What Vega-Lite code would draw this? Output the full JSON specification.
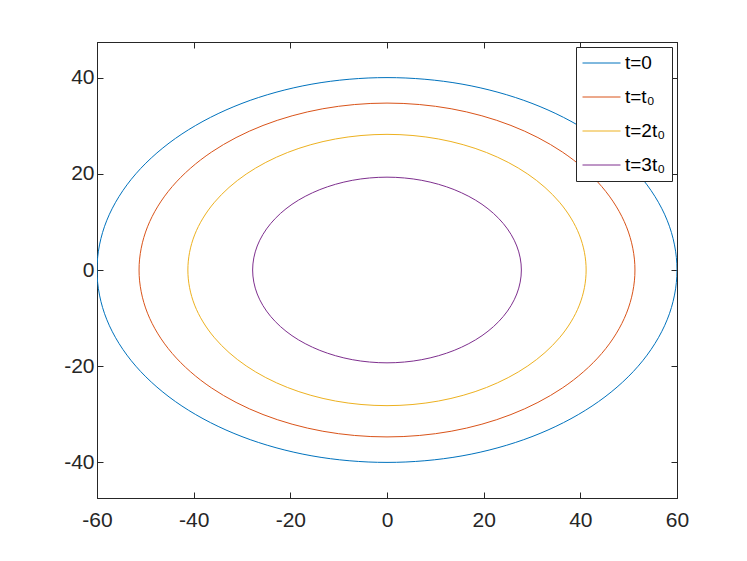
{
  "$schema": "https://vega.github.io/schema/vega-lite/v6.json",
  "width": 580,
  "height": 456,
  "autosize": {"type": "none"},
  "padding": {"left": 97, "top": 42, "right": 70, "bottom": 63},
  "background": "white",
  "config": {
    "view": {"stroke": "#262626", "strokeWidth": 1},
    "axis": {
      "grid": false,
      "domainColor": "#262626",
      "tickColor": "#262626",
      "labelColor": "#262626",
      "labelFont": "Liberation Sans",
      "labelFontSize": 21,
      "tickSize": -6,
      "title": null,
      "labelExpr": "replace(datum.label, '−', '-')"
    },
    "legend": {
      "strokeColor": "#262626",
      "fillColor": "white",
      "padding": 6,
      "labelFont": "Liberation Sans",
      "labelFontSize": 19,
      "labelColor": "#000000",
      "symbolType": "M-1,0H3",
      "symbolStrokeWidth": 1,
      "symbolSize": 361,
      "rowPadding": 14,
      "labelOffset": 23
    }
  },
  "data": {
    "values": [
      {"s":"t=0","i":0,"x":60,"y":0},{"s":"t=0","i":1,"x":57.96,"y":10.35},{"s":"t=0","i":2,"x":51.96,"y":20},{"s":"t=0","i":3,"x":42.43,"y":28.28},{"s":"t=0","i":4,"x":30,"y":34.64},{"s":"t=0","i":5,"x":15.53,"y":38.64},{"s":"t=0","i":6,"x":0,"y":40},{"s":"t=0","i":7,"x":-15.53,"y":38.64},{"s":"t=0","i":8,"x":-30,"y":34.64},{"s":"t=0","i":9,"x":-42.43,"y":28.28},{"s":"t=0","i":10,"x":-51.96,"y":20},{"s":"t=0","i":11,"x":-57.96,"y":10.35},{"s":"t=0","i":12,"x":-60,"y":0},{"s":"t=0","i":13,"x":-57.96,"y":-10.35},{"s":"t=0","i":14,"x":-51.96,"y":-20},{"s":"t=0","i":15,"x":-42.43,"y":-28.28},{"s":"t=0","i":16,"x":-30,"y":-34.64},{"s":"t=0","i":17,"x":-15.53,"y":-38.64},{"s":"t=0","i":18,"x":0,"y":-40},{"s":"t=0","i":19,"x":15.53,"y":-38.64},{"s":"t=0","i":20,"x":30,"y":-34.64},{"s":"t=0","i":21,"x":42.43,"y":-28.28},{"s":"t=0","i":22,"x":51.96,"y":-20},{"s":"t=0","i":23,"x":57.96,"y":-10.35},
      {"s":"t=t₀","i":0,"x":51.3,"y":0},{"s":"t=t₀","i":1,"x":49.55,"y":8.98},{"s":"t=t₀","i":2,"x":44.43,"y":17.35},{"s":"t=t₀","i":3,"x":36.27,"y":24.54},{"s":"t=t₀","i":4,"x":25.65,"y":30.05},{"s":"t=t₀","i":5,"x":13.28,"y":33.52},{"s":"t=t₀","i":6,"x":0,"y":34.7},{"s":"t=t₀","i":7,"x":-13.28,"y":33.52},{"s":"t=t₀","i":8,"x":-25.65,"y":30.05},{"s":"t=t₀","i":9,"x":-36.27,"y":24.54},{"s":"t=t₀","i":10,"x":-44.43,"y":17.35},{"s":"t=t₀","i":11,"x":-49.55,"y":8.98},{"s":"t=t₀","i":12,"x":-51.3,"y":0},{"s":"t=t₀","i":13,"x":-49.55,"y":-8.98},{"s":"t=t₀","i":14,"x":-44.43,"y":-17.35},{"s":"t=t₀","i":15,"x":-36.27,"y":-24.54},{"s":"t=t₀","i":16,"x":-25.65,"y":-30.05},{"s":"t=t₀","i":17,"x":-13.28,"y":-33.52},{"s":"t=t₀","i":18,"x":0,"y":-34.7},{"s":"t=t₀","i":19,"x":13.28,"y":-33.52},{"s":"t=t₀","i":20,"x":25.65,"y":-30.05},{"s":"t=t₀","i":21,"x":36.27,"y":-24.54},{"s":"t=t₀","i":22,"x":44.43,"y":-17.35},{"s":"t=t₀","i":23,"x":49.55,"y":-8.98},
      {"s":"t=2t₀","i":0,"x":41.2,"y":0},{"s":"t=2t₀","i":1,"x":39.8,"y":7.3},{"s":"t=2t₀","i":2,"x":35.68,"y":14.1},{"s":"t=2t₀","i":3,"x":29.13,"y":19.94},{"s":"t=2t₀","i":4,"x":20.6,"y":24.42},{"s":"t=2t₀","i":5,"x":10.66,"y":27.24},{"s":"t=2t₀","i":6,"x":0,"y":28.2},{"s":"t=2t₀","i":7,"x":-10.66,"y":27.24},{"s":"t=2t₀","i":8,"x":-20.6,"y":24.42},{"s":"t=2t₀","i":9,"x":-29.13,"y":19.94},{"s":"t=2t₀","i":10,"x":-35.68,"y":14.1},{"s":"t=2t₀","i":11,"x":-39.8,"y":7.3},{"s":"t=2t₀","i":12,"x":-41.2,"y":0},{"s":"t=2t₀","i":13,"x":-39.8,"y":-7.3},{"s":"t=2t₀","i":14,"x":-35.68,"y":-14.1},{"s":"t=2t₀","i":15,"x":-29.13,"y":-19.94},{"s":"t=2t₀","i":16,"x":-20.6,"y":-24.42},{"s":"t=2t₀","i":17,"x":-10.66,"y":-27.24},{"s":"t=2t₀","i":18,"x":0,"y":-28.2},{"s":"t=2t₀","i":19,"x":10.66,"y":-27.24},{"s":"t=2t₀","i":20,"x":20.6,"y":-24.42},{"s":"t=2t₀","i":21,"x":29.13,"y":-19.94},{"s":"t=2t₀","i":22,"x":35.68,"y":-14.1},{"s":"t=2t₀","i":23,"x":39.8,"y":-7.3},
      {"s":"t=3t₀","i":0,"x":27.8,"y":0},{"s":"t=3t₀","i":1,"x":26.85,"y":4.99},{"s":"t=3t₀","i":2,"x":24.07,"y":9.65},{"s":"t=3t₀","i":3,"x":19.66,"y":13.65},{"s":"t=3t₀","i":4,"x":13.9,"y":16.71},{"s":"t=3t₀","i":5,"x":7.19,"y":18.64},{"s":"t=3t₀","i":6,"x":0,"y":19.3},{"s":"t=3t₀","i":7,"x":-7.19,"y":18.64},{"s":"t=3t₀","i":8,"x":-13.9,"y":16.71},{"s":"t=3t₀","i":9,"x":-19.66,"y":13.65},{"s":"t=3t₀","i":10,"x":-24.07,"y":9.65},{"s":"t=3t₀","i":11,"x":-26.85,"y":4.99},{"s":"t=3t₀","i":12,"x":-27.8,"y":0},{"s":"t=3t₀","i":13,"x":-26.85,"y":-4.99},{"s":"t=3t₀","i":14,"x":-24.07,"y":-9.65},{"s":"t=3t₀","i":15,"x":-19.66,"y":-13.65},{"s":"t=3t₀","i":16,"x":-13.9,"y":-16.71},{"s":"t=3t₀","i":17,"x":-7.19,"y":-18.64},{"s":"t=3t₀","i":18,"x":0,"y":-19.3},{"s":"t=3t₀","i":19,"x":7.19,"y":-18.64},{"s":"t=3t₀","i":20,"x":13.9,"y":-16.71},{"s":"t=3t₀","i":21,"x":19.66,"y":-13.65},{"s":"t=3t₀","i":22,"x":24.07,"y":-9.65},{"s":"t=3t₀","i":23,"x":26.85,"y":-4.99}
    ]
  },
  "layer": [
    {
      "mark": {"type": "line", "interpolate": "cardinal-closed", "strokeWidth": 1, "clip": true},
      "encoding": {
        "x": {"field": "x", "type": "quantitative", "scale": {"domain": [-60, 60], "nice": false, "zero": false},
              "axis": {"values": [-60, -40, -20, 0, 20, 40, 60], "labelPadding": 17, "labelFlush": false}},
        "y": {"field": "y", "type": "quantitative", "scale": {"domain": [-47.4, 47.4], "nice": false, "zero": false},
              "axis": {"values": [-40, -20, 0, 20, 40], "labelPadding": 9}},
        "color": {"field": "s", "type": "nominal",
                  "scale": {"domain": ["t=0", "t=t₀", "t=2t₀", "t=3t₀"], "range": ["#0072BD", "#D95319", "#EDB120", "#7E2F8E"]},
                  "legend": {"title": null, "orient": "top-right", "offset": 5}},
        "order": {"field": "i", "type": "quantitative"}
      }
    },
    {
      "mark": {"type": "line", "strokeOpacity": 0},
      "encoding": {
        "x": {"field": "x", "type": "quantitative", "axis": {"orient": "top", "values": [-60, -40, -20, 0, 20, 40, 60], "labels": false}},
        "y": {"field": "y", "type": "quantitative", "axis": {"orient": "right", "values": [-40, -20, 0, 20, 40], "labels": false}},
        "detail": {"field": "s", "type": "nominal"},
        "order": {"field": "i", "type": "quantitative"}
      }
    }
  ],
  "resolve": {"axis": {"x": "independent", "y": "independent"}}
}
